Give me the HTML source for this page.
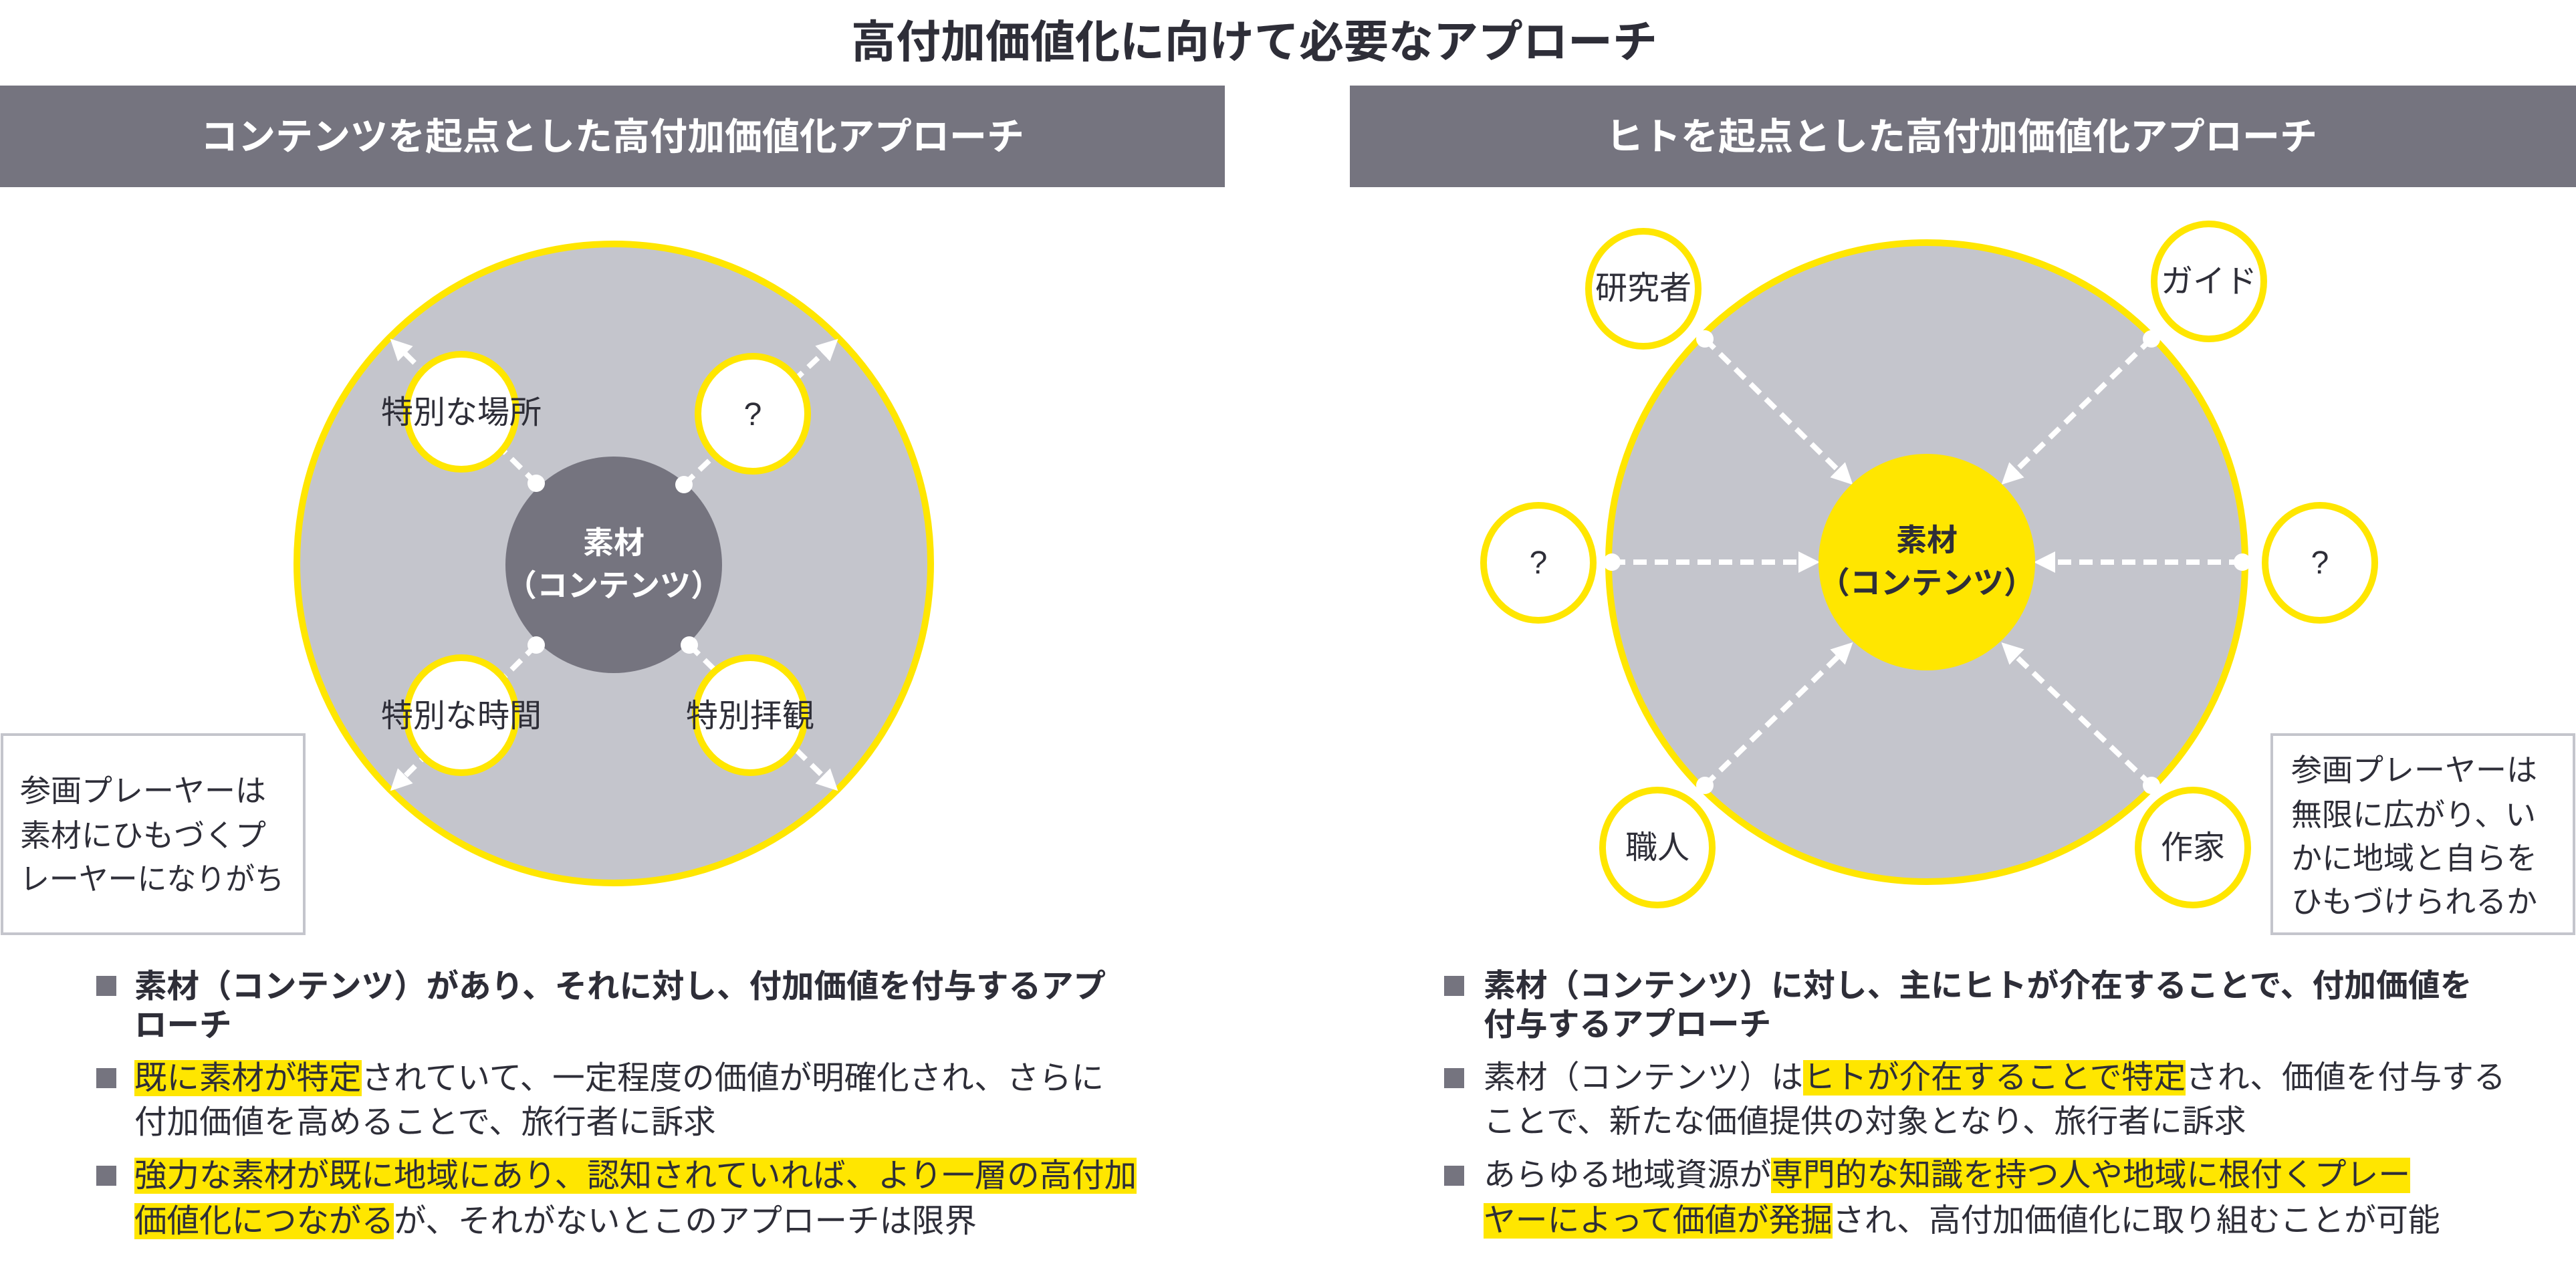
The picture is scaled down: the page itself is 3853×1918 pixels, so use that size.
<!DOCTYPE html>
<html><head><meta charset="utf-8"><style>
html,body{margin:0;padding:0;background:#fff;}
body{width:3853px;height:1918px;position:relative;overflow:hidden;font-family:"Liberation Sans","Noto Sans CJK JP",sans-serif;color:#2e2e38;}
.l{position:absolute;white-space:nowrap;font-size:48.5px;line-height:70px;height:70px;}
.r{font-size:47.8px;}
.b{font-weight:bold;}
.h{background:#ffe600;}
.sq{position:absolute;width:30px;height:30px;background:#75747f;}
</style></head><body>
<svg width="3853" height="1918" style="position:absolute;left:0;top:0" font-family="Liberation Sans, Noto Sans CJK JP, sans-serif">
<defs>
<marker id="ah" markerWidth="4" markerHeight="4" refX="2" refY="2" orient="auto" markerUnits="strokeWidth"><path d="M0,0 L4,2 L0,4 Z" fill="#fff"/></marker>
</defs>
<text x="1876" y="86" font-size="67" font-weight="bold" text-anchor="middle" fill="#2e2e38">高付加価値化に向けて必要なアプローチ</text>
<rect x="0" y="128" width="1832" height="152" fill="#75747f"/>
<rect x="2019" y="128" width="1834" height="152" fill="#75747f"/>
<text x="916" y="224" font-size="56" font-weight="bold" text-anchor="middle" fill="#fff">コンテンツを起点とした高付加価値化アプローチ</text>
<text x="2934" y="224" font-size="56" font-weight="bold" text-anchor="middle" fill="#fff">ヒトを起点とした高付加価値化アプローチ</text>

<ellipse cx="918" cy="843" rx="474" ry="478" fill="#c4c5cc" stroke="#ffe600" stroke-width="10"/>
<g stroke="#fff" stroke-width="8" stroke-dasharray="20 12" marker-end="url(#ah)">
<line x1="802" y1="723" x2="595" y2="518"/>
<line x1="1023" y1="725" x2="1242" y2="518"/>
<line x1="802" y1="965" x2="595" y2="1172"/>
<line x1="1031" y1="965" x2="1242" y2="1172"/>
</g>
<circle cx="918" cy="845" r="162" fill="#75747f"/>
<g fill="#fff"><circle cx="802" cy="723" r="13"/><circle cx="1023" cy="725" r="13"/><circle cx="802" cy="965" r="13"/><circle cx="1031" cy="965" r="13"/></g>
<g fill="#fff" stroke="#ffe600" stroke-width="10">
<ellipse cx="690" cy="616" rx="82" ry="86"/>
<ellipse cx="1126" cy="619" rx="82" ry="86"/>
<ellipse cx="690" cy="1070" rx="82" ry="86"/>
<ellipse cx="1122" cy="1070" rx="82" ry="86"/>
</g>
<g font-size="48" fill="#2e2e38" text-anchor="middle">
<text x="690" y="633">特別な場所</text>
<text x="1126" y="636">?</text>
<text x="690" y="1087">特別な時間</text>
<text x="1122" y="1087">特別拝観</text>
</g>
<text x="918" y="828" font-size="46" font-weight="bold" fill="#fff" text-anchor="middle">素材</text>
<text x="918" y="892" font-size="46" font-weight="bold" fill="#fff" text-anchor="middle">（コンテンツ）</text>
<rect x="3" y="1099" width="452" height="298" fill="#fff" stroke="#c4c5cc" stroke-width="4"/>
<g font-size="46" fill="#2e2e38">
<text x="30" y="1199">参画プレーヤーは</text>
<text x="30" y="1266">素材にひもづくプ</text>
<text x="30" y="1331" textLength="395" lengthAdjust="spacingAndGlyphs">レーヤーになりがち</text>
</g>

<ellipse cx="2882" cy="841" rx="476" ry="478" fill="#c4c5cc" stroke="#ffe600" stroke-width="10"/>
<g stroke="#fff" stroke-width="8" stroke-dasharray="20 12" marker-end="url(#ah)">
<line x1="2550" y1="507" x2="2760" y2="714"/>
<line x1="3218" y1="507" x2="3005" y2="714"/>
<line x1="2411" y1="841" x2="2706" y2="841"/>
<line x1="3354" y1="841" x2="3058" y2="841"/>
<line x1="2550" y1="1175" x2="2760" y2="972"/>
<line x1="3218" y1="1175" x2="3005" y2="972"/>
</g>
<g fill="#fff"><circle cx="2550" cy="507" r="13"/><circle cx="3218" cy="507" r="13"/><circle cx="2411" cy="841" r="13"/><circle cx="3354" cy="841" r="13"/><circle cx="2550" cy="1175" r="13"/><circle cx="3218" cy="1175" r="13"/></g>
<circle cx="2882" cy="841" r="162" fill="#ffe600"/>
<g fill="#fff" stroke="#ffe600" stroke-width="10">
<ellipse cx="2458" cy="432" rx="82" ry="86"/>
<ellipse cx="3304" cy="421" rx="82" ry="86"/>
<ellipse cx="2301" cy="842" rx="82" ry="86"/>
<ellipse cx="3470" cy="842" rx="82" ry="86"/>
<ellipse cx="2479" cy="1268" rx="82" ry="86"/>
<ellipse cx="3280" cy="1268" rx="82" ry="86"/>
</g>
<g font-size="48" fill="#2e2e38" text-anchor="middle">
<text x="2458" y="447">研究者</text>
<text x="3304" y="437">ガイド</text>
<text x="2301" y="858">?</text>
<text x="3470" y="858">?</text>
<text x="2479" y="1284">職人</text>
<text x="3280" y="1284">作家</text>
</g>
<text x="2882" y="824" font-size="46" font-weight="bold" fill="#2e2e38" text-anchor="middle">素材</text>
<text x="2882" y="888" font-size="46" font-weight="bold" fill="#2e2e38" text-anchor="middle">（コンテンツ）</text>
<rect x="3398" y="1099" width="452" height="298" fill="#fff" stroke="#c4c5cc" stroke-width="4"/>
<g font-size="46" fill="#2e2e38">
<text x="3427" y="1168">参画プレーヤーは</text>
<text x="3427" y="1235">無限に広がり、い</text>
<text x="3427" y="1300">かに地域と自らを</text>
<text x="3427" y="1365">ひもづけられるか</text>
</g>
</svg>

<div class="sq" style="left:144px;top:1460px"></div>
<div class="l b" style="left:201px;top:1441px">素材（コンテンツ）があり、それに対し、付加価値を付与するアプ</div>
<div class="l b" style="left:201px;top:1499px">ローチ</div>
<div class="sq" style="left:144px;top:1598px"></div>
<div class="l" style="left:201px;top:1578px"><span class="h">既に素材が特定</span>されていて、一定程度の価値が明確化され、さらに</div>
<div class="l" style="left:201px;top:1644px">付加価値を高めることで、旅行者に訴求</div>
<div class="sq" style="left:144px;top:1744px"></div>
<div class="l" style="left:201px;top:1724px"><span class="h">強力な素材が既に地域にあり、認知されていれば、より一層の高付加</span></div>
<div class="l" style="left:201px;top:1792px"><span class="h">価値化につながる</span>が、それがないとこのアプローチは限界</div>

<div class="sq" style="left:2160px;top:1460px"></div>
<div class="l r b" style="left:2219px;top:1441px">素材（コンテンツ）に対し、主にヒトが介在することで、付加価値を</div>
<div class="l r b" style="left:2219px;top:1499px">付与するアプローチ</div>
<div class="sq" style="left:2160px;top:1598px"></div>
<div class="l r" style="left:2219px;top:1578px">素材（コンテンツ）は<span class="h">ヒトが介在することで特定</span>され、価値を付与する</div>
<div class="l r" style="left:2219px;top:1644px">ことで、新たな価値提供の対象となり、旅行者に訴求</div>
<div class="sq" style="left:2160px;top:1744px"></div>
<div class="l r" style="left:2219px;top:1724px">あらゆる地域資源が<span class="h">専門的な知識を持つ人や地域に根付くプレー</span></div>
<div class="l r" style="left:2219px;top:1792px"><span class="h">ヤーによって価値が発掘</span>され、高付加価値化に取り組むことが可能</div>
</body></html>
